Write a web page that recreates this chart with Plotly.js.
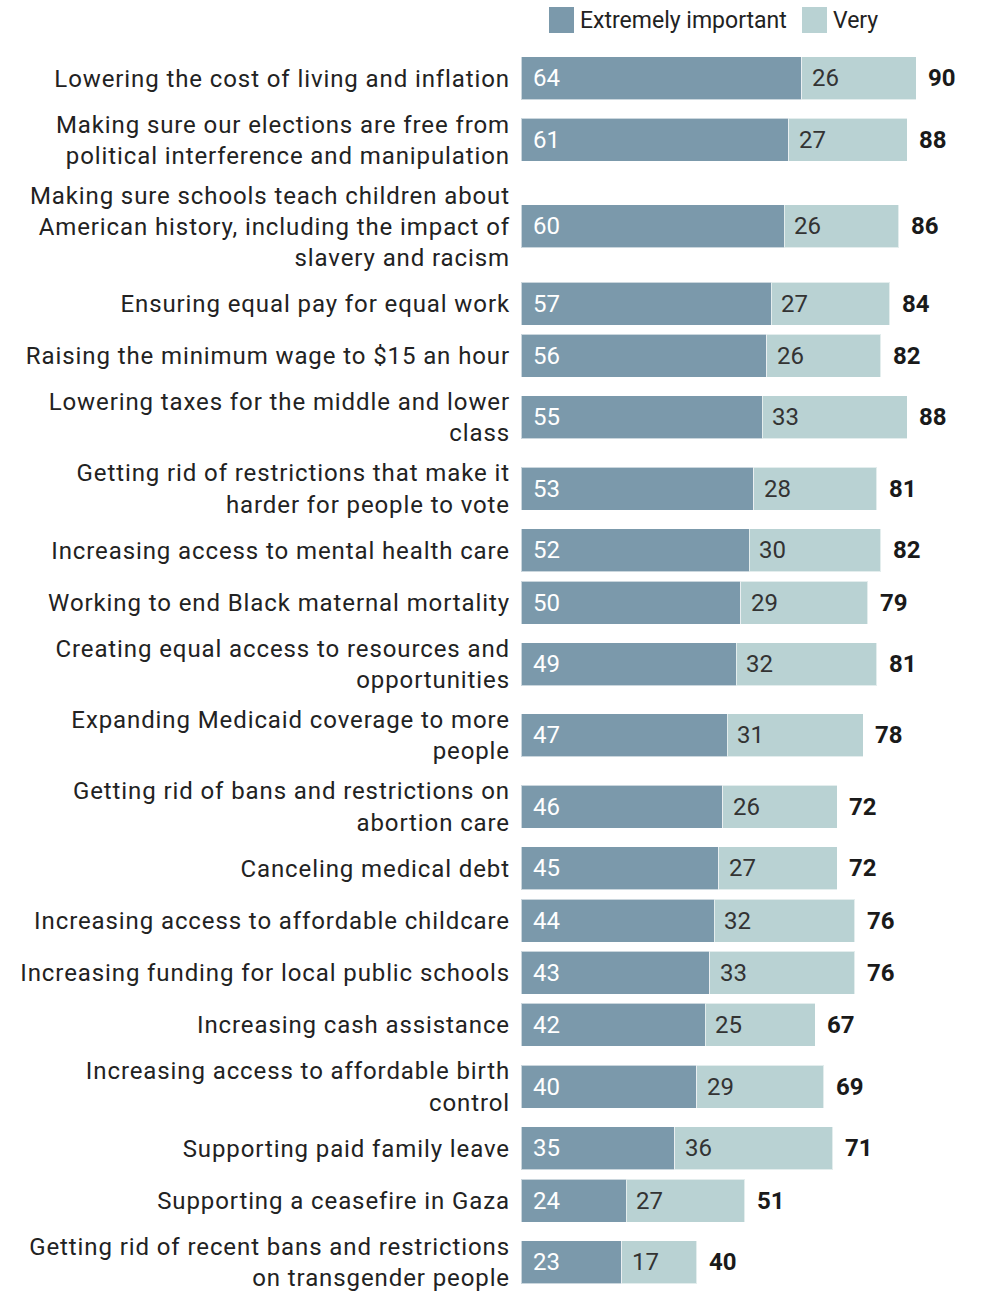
<!DOCTYPE html>
<html>
<head>
<meta charset="utf-8">
<script src="https://cdn.plot.ly/plotly-3.0.1.min.js"></script>
<style>
html,body{margin:0;padding:0;background:#fff;}
#chart{width:984px;height:1291px;}
#chart .ytick text{letter-spacing:0.9px;}
</style>
</head>
<body>
<div id="chart"></div>
<script>
const categories = [
  "Lowering the cost of living and inflation",
  "Making sure our elections are free from<br>political interference and manipulation",
  "Making sure schools teach children about<br>American history, including the impact of<br>slavery and racism",
  "Ensuring equal pay for equal work",
  "Raising the minimum wage to $15 an hour",
  "Lowering taxes for the middle and lower<br>class",
  "Getting rid of restrictions that make it<br>harder for people to vote",
  "Increasing access to mental health care",
  "Working to end Black maternal mortality",
  "Creating equal access to resources and<br>opportunities",
  "Expanding Medicaid coverage to more<br>people",
  "Getting rid of bans and restrictions on<br>abortion care",
  "Canceling medical debt",
  "Increasing access to affordable childcare",
  "Increasing funding for local public schools",
  "Increasing cash assistance",
  "Increasing access to affordable birth<br>control",
  "Supporting paid family leave",
  "Supporting a ceasefire in Gaza",
  "Getting rid of recent bans and restrictions<br>on transgender people"
];
const extremely = [64,61,60,57,56,55,53,52,50,49,47,46,45,44,43,42,40,35,24,23];
const very      = [26,27,26,27,26,33,28,30,29,32,31,26,27,32,33,25,29,36,27,17];
const totals    = [90,88,86,84,82,88,81,82,79,81,78,72,72,76,76,67,69,71,51,40];
const seriesNames = ["Extremely important", "Very"];

// layout constants
const W = 984, H = 1291, L = 521, PLOTW = W - L;
const PX_PER_UNIT = 4.39;
const BAR_PX = 42.6, LINE_PX = 30.8, PAD_PX = 9.6, HEADER_PX = 52;
const DARK = "#7b99ab", LIGHT = "#b9d2d3";
const FONT = "Roboto, 'Noto Sans', sans-serif";

// row positions derived from label line counts (y axis is in pixel units)
const yPos = [];
let cursor = HEADER_PX;
categories.forEach(c => {
  const lines = c.split("<br>").length;
  const h = Math.max(BAR_PX, lines * LINE_PX) + PAD_PX;
  yPos.push(cursor + h / 2);
  cursor += h;
});

const traces = [
  {type: "bar", orientation: "h", name: seriesNames[0], x: extremely, y: yPos,
   width: 43, marker: {color: DARK, line: {color: "rgba(255,255,255,0.6)", width: 1}}, hoverinfo: "x+name"},
  {type: "bar", orientation: "h", name: seriesNames[1], x: very, y: yPos,
   width: 43, marker: {color: LIGHT, line: {color: "rgba(255,255,255,0.6)", width: 1}}, hoverinfo: "x+name"}
];

const annotations = [];
yPos.forEach((y, i) => {
  annotations.push({x: 0, y: y, xref: "x", yref: "y", text: String(extremely[i]), showarrow: false,
    xanchor: "left", yanchor: "middle", xshift: 10, font: {family: FONT, size: 24, color: "#ffffff"}});
  annotations.push({x: extremely[i], y: y, xref: "x", yref: "y", text: String(very[i]), showarrow: false,
    xanchor: "left", yanchor: "middle", xshift: 8, font: {family: FONT, size: 24, color: "#333333"}});
  annotations.push({x: extremely[i] + very[i], y: y, xref: "x", yref: "y", text: "<b>" + totals[i] + "</b>", showarrow: false,
    xanchor: "left", yanchor: "middle", xshift: 10, font: {family: FONT, size: 24, color: "#1a1a1a"}});
});

// custom legend
const px2paper = px => (px - L) / PLOTW;
const legendItems = [
  {x0: 549, color: DARK, label: seriesNames[0]},
  {x0: 802, color: LIGHT, label: seriesNames[1]}
];
const shapes = [];
legendItems.forEach(it => {
  shapes.push({type: "rect", xref: "paper", yref: "y", x0: px2paper(it.x0), x1: px2paper(it.x0 + 25),
    y0: 7, y1: 33, fillcolor: it.color, line: {width: 0}});
  annotations.push({xref: "paper", yref: "y", x: px2paper(it.x0 + 29), y: 20, text: it.label, showarrow: false,
    xanchor: "left", yanchor: "middle", font: {family: FONT, size: 23, color: "#222222"}});
});

const layout = {
  width: W, height: H,
  margin: {l: L, r: 0, t: 0, b: 0, pad: 0},
  paper_bgcolor: "#ffffff", plot_bgcolor: "#ffffff",
  barmode: "stack", showlegend: false,
  font: {family: FONT, color: "#222222"},
  xaxis: {range: [0, PLOTW / PX_PER_UNIT], showgrid: false, zeroline: false, showticklabels: false, ticks: "", fixedrange: true},
  yaxis: {range: [H, 0], autorange: false, tickmode: "array", tickvals: yPos, ticktext: categories,
    showgrid: false, zeroline: false, showline: false, ticks: "", ticklabelstandoff: 10,
    ticklabeloverflow: "allow",
    tickfont: {family: FONT, size: 24, color: "#222222"}, fixedrange: true},
  annotations: annotations,
  shapes: shapes
};

Plotly.newPlot("chart", traces, layout, {displayModeBar: false, staticPlot: true});
</script>
</body>
</html>
